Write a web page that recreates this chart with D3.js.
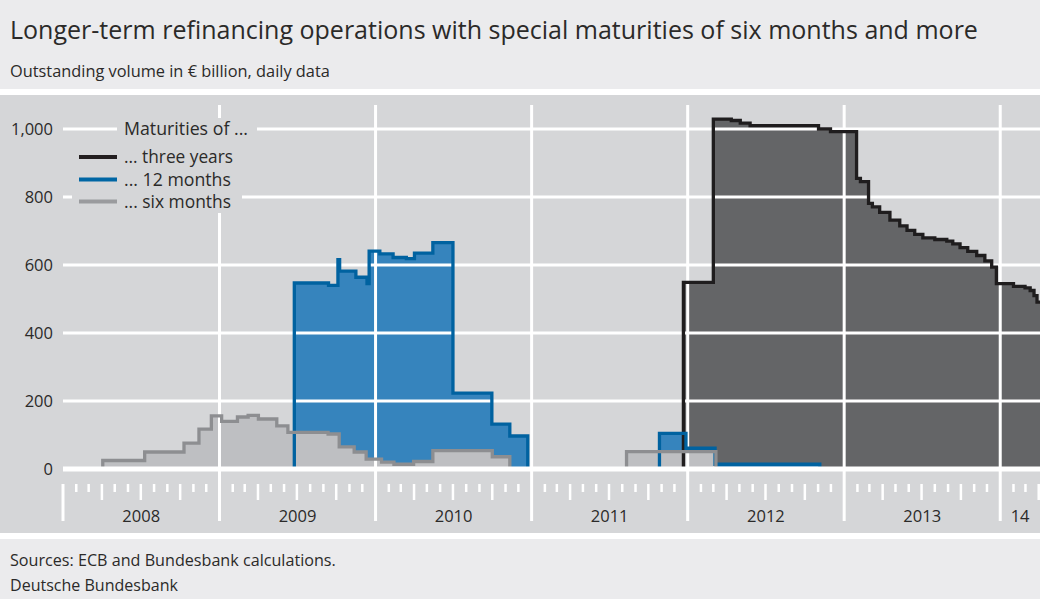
<!DOCTYPE html>
<html>
<head>
<meta charset="utf-8">
<script src="https://cdn.jsdelivr.net/npm/d3@7"></script>
<style>
  html, body { margin: 0; padding: 0; background: #ffffff; }
  svg { display: block; font-family: "Open Sans", "Noto Sans", sans-serif; }
</style>
</head>
<body>
<svg id="chart" width="1040" height="599"></svg>
<script>
// ---------- data ----------
const yTickValues = [0, 200, 400, 600, 800, 1000];
const yTickLabels = ["0", "200", "400", "600", "800", "1,000"];
const yearStarts = ["2008", "2009", "2010", "2011", "2012", "2013", "2014"];
const yearLabels = ["2008", "2009", "2010", "2011", "2012", "2013", "14"];
const legendLabels = ["... three years", "... 12 months", "... six months"];
const legendTitle = "Maturities of ...";

// six-month operations (EUR bn)
const sixMonths = [
  ["2008-04-03", 25], ["2008-07-10", 50], ["2008-10-10", 76], ["2008-11-14", 117],
  ["2008-12-13", 156], ["2009-01-06", 140], ["2009-02-12", 153], ["2009-03-09", 158],
  ["2009-04-02", 147], ["2009-05-15", 127], ["2009-06-10", 108], ["2009-09-12", 103],
  ["2009-10-08", 65], ["2009-11-12", 50], ["2009-12-10", 29], ["2010-01-15", 20],
  ["2010-02-13", 14], ["2010-03-31", 22], ["2010-05-15", 54], ["2010-10-01", 36],
  ["2010-11-11", 0], ["2011-08-11", 51], ["2012-03-07", 0]
];
// 12-month operations (EUR bn)
const twelveMonths = [
  ["2009-06-25", 547], ["2009-09-13", 540], ["2009-10-05", 616], ["2009-10-09", 582],
  ["2009-11-16", 564], ["2009-12-12", 545], ["2009-12-17", 641], ["2010-01-11", 633],
  ["2010-02-11", 622], ["2010-03-14", 619], ["2010-04-02", 635], ["2010-05-15", 666],
  ["2010-07-01", 223], ["2010-09-30", 132], ["2010-11-11", 97], ["2010-12-23", 0],
  ["2011-10-27", 105], ["2011-12-28", 61], ["2012-03-05", 14], ["2012-11-05", 0]
];
// three-year operations (EUR bn)
const threeYears = [
  ["2011-12-22", 549], ["2012-03-01", 1029], ["2012-04-12", 1025], ["2012-05-03", 1017],
  ["2012-05-26", 1010], ["2012-11-02", 1000], ["2012-11-30", 992], ["2013-01-30", 855],
  ["2013-02-08", 845], ["2013-02-27", 781], ["2013-03-08", 771], ["2013-03-25", 755],
  ["2013-04-18", 732], ["2013-05-11", 715], ["2013-05-28", 702], ["2013-06-15", 690],
  ["2013-07-04", 680], ["2013-08-01", 675], ["2013-08-29", 670], ["2013-09-12", 662],
  ["2013-09-29", 651], ["2013-10-17", 640], ["2013-11-07", 628], ["2013-11-26", 612],
  ["2013-12-12", 594], ["2013-12-23", 545], ["2014-02-01", 537], ["2014-02-28", 533],
  ["2014-03-12", 525], ["2014-03-21", 510], ["2014-03-28", 491]
];
const domainStart = "2008-01-01";
const domainEnd = "2014-04-04";

// ---------- setup ----------
const parse = d3.timeParse("%Y-%m-%d");
const svg = d3.select("#chart");
const W = 1040, H = 599;
const C = {
  header: "#ebebed", band: "#d5d6d8", text: "#2b2a29",
  darkFill: "#646567", darkStroke: "#1f1d1e",
  blueFill: "#3684bd", blueStroke: "#0062a0",
  grayFill: "#bebfc2", grayStroke: "#8d8e91"
};

const x = d3.scaleTime().domain([parse(domainStart), parse(domainEnd)]).range([63, 1040]);
const y = d3.scaleLinear().domain([0, 1000]).range([469, 129]);

// backgrounds
svg.append("rect").attr("x", 0).attr("y", 0).attr("width", W).attr("height", 89).attr("fill", C.header);
svg.append("rect").attr("x", 0).attr("y", 95).attr("width", W).attr("height", 438).attr("fill", C.band);
svg.append("rect").attr("x", 0).attr("y", 539).attr("width", W).attr("height", 60).attr("fill", C.header);

function fitText(sel, width) {
  const node = sel.node();
  let fs = parseFloat(sel.attr("font-size"));
  const w = node.getComputedTextLength();
  sel.attr("font-size", (fs * width / w).toFixed(2));
}

// title & subtitle
const title = svg.append("text").attr("x", 10).attr("y", 39).attr("font-size", 24)
  .attr("fill", C.text).text("Longer-term refinancing operations with special maturities of six months and more");
fitText(title, 968);
const sub = svg.append("text").attr("x", 10).attr("y", 77).attr("font-size", 15)
  .attr("fill", C.text).text("Outstanding volume in € billion, daily data");
fitText(sub, 320);

// footer
const f1 = svg.append("text").attr("x", 10).attr("y", 566).attr("font-size", 15)
  .attr("fill", C.text).text("Sources: ECB and Bundesbank calculations.");
fitText(f1, 326);
const f2 = svg.append("text").attr("x", 10).attr("y", 591).attr("font-size", 15)
  .attr("fill", C.text).text("Deutsche Bundesbank");
fitText(f2, 168);

// series prep
function prep(arr) {
  const pts = arr.map(d => ({ date: parse(d[0]), v: d[1] }));
  const out = [{ date: pts[0].date, v: 0 }].concat(pts);
  const last = pts[pts.length - 1];
  if (last.v !== 0) out.push({ date: parse(domainEnd), v: last.v });
  return out;
}
const s3 = prep(threeYears), s12 = prep(twelveMonths), s6 = prep(sixMonths);

const area = d3.area().x(d => x(d.date)).y0(y(0)).y1(d => y(d.v)).curve(d3.curveStepAfter);
const line = d3.line().x(d => x(d.date)).y(d => y(d.v)).curve(d3.curveStepAfter);

const plot = svg.append("g");
plot.append("path").datum(s3).attr("d", area).attr("fill", C.darkFill);
plot.append("path").datum(s12).attr("d", area).attr("fill", C.blueFill);
plot.append("path").datum(s6).attr("d", area).attr("fill", C.grayFill);

// horizontal gridlines (except zero)
const grid = svg.append("g");
grid.selectAll("line.h").data(yTickValues.filter(v => v !== 0)).join("line")
  .attr("x1", 63).attr("x2", 1040).attr("y1", d => y(d)).attr("y2", d => y(d))
  .attr("stroke", "#ffffff").attr("stroke-width", 3);

// vertical year lines through plot
const yearDates = yearStarts.map(s => parse(s + "-01-01"));
grid.selectAll("line.v").data(yearDates.slice(1)).join("line")
  .attr("x1", d => x(d)).attr("x2", d => x(d)).attr("y1", 105).attr("y2", 521)
  .attr("stroke", "#ffffff").attr("stroke-width", 3);
grid.append("line").attr("x1", x(yearDates[0])).attr("x2", x(yearDates[0]))
  .attr("y1", 484).attr("y2", 521).attr("stroke", "#ffffff").attr("stroke-width", 3);

// month ticks
const months = d3.timeMonth.range(parse(domainStart), parse(domainEnd)).filter(d => d.getMonth() !== 0);
grid.selectAll("line.m").data(months).join("line")
  .attr("x1", d => x(d)).attr("x2", d => x(d)).attr("y1", 484)
  .attr("y2", d => (d.getMonth() % 3 === 0 ? 500 : 492))
  .attr("stroke", "#ffffff").attr("stroke-width", 2.5);

// strokes
const strokes = svg.append("g").attr("fill", "none").attr("stroke-width", 3.3).attr("stroke-linejoin", "miter");
strokes.append("path").datum(s3).attr("d", line).attr("stroke", C.darkStroke);
strokes.append("path").datum(s12).attr("d", line).attr("stroke", C.blueStroke);
strokes.append("path").datum(s6).attr("d", line).attr("stroke", C.grayStroke);

// zero line
svg.append("line").attr("x1", 63).attr("x2", 1040).attr("y1", y(0)).attr("y2", y(0))
  .attr("stroke", "#ffffff").attr("stroke-width", 5);

// y labels
svg.append("g").selectAll("text").data(yTickValues).join("text")
  .attr("x", 53).attr("y", d => y(d) + 5.5).attr("text-anchor", "end")
  .attr("font-size", 16.5).attr("fill", C.text)
  .text((d, i) => yTickLabels[i]);

// year labels
const yearBounds = yearDates.concat([parse(domainEnd)]);
svg.append("g").selectAll("text").data(yearLabels).join("text")
  .attr("x", (d, i) => (x(yearBounds[i]) + x(yearBounds[i + 1])) / 2)
  .attr("y", 522).attr("text-anchor", "middle")
  .attr("font-size", 16.5).attr("fill", C.text).text(d => d);

// legend
const lg = svg.append("g");
lg.append("rect").attr("x", 117).attr("y", 118).attr("width", 140).attr("height", 22).attr("fill", C.band);
lg.append("rect").attr("x", 72).attr("y", 140).attr("width", 170).attr("height", 73).attr("fill", C.band);
const lt = lg.append("text").attr("x", 124).attr("y", 135).attr("font-size", 16).attr("fill", C.text).text(legendTitle);
fitText(lt, 124);
const legendColors = ["#231f20", "#0066a4", "#9a9b9e"];
const legendY = [157, 179.5, 201.5];
const legendWidths = [109, 107, 107];
legendLabels.forEach((lab, i) => {
  lg.append("line").attr("x1", 79).attr("x2", 117).attr("y1", legendY[i]).attr("y2", legendY[i])
    .attr("stroke", legendColors[i]).attr("stroke-width", 4);
  const t = lg.append("text").attr("x", 124).attr("y", legendY[i] + 6).attr("font-size", 16)
    .attr("fill", C.text).text(lab);
  fitText(t, legendWidths[i]);
});
</script>
</body>
</html>
